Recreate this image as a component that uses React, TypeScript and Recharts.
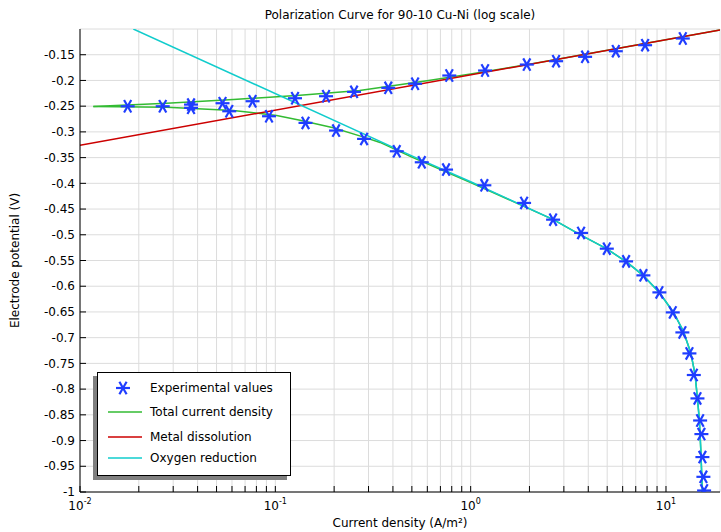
import { ComposedChart, Line, Scatter, XAxis, YAxis, CartesianGrid } from 'recharts';

if (typeof document !== 'undefined') document.body.style.margin = '0';

const FONT = '"DejaVu Sans", Verdana, sans-serif';
const BLUE = '#1f3dff';
const GREEN = '#33bb33';
const RED = '#cc0000';
const CYAN = '#11cccc';

// measured points: current density (A/m^2) and electrode potential (V)
const expCurrent = [
  0.01754, 0.02651, 0.03702, 0.03702, 0.05365, 0.05808, 0.07643, 0.09284, 0.1261, 0.1427,
  0.1818, 0.2046, 0.2529, 0.2846, 0.3786, 0.4184, 0.5192, 0.5619, 0.7772, 0.7482,
  1.185, 1.175, 1.938, 1.877, 2.737, 2.642, 3.853, 3.675, 5.534, 4.977,
  7.816, 6.247, 12.19, 7.66, 9.25, 10.83, 12.13, 13.18, 13.88, 14.49,
  14.95, 15.18, 15.36, 15.54, 15.67,
];
const expPotential = [
  -0.2502, -0.2502, -0.2469, -0.2533, -0.2443, -0.2599, -0.2404, -0.2696, -0.2346, -0.2825,
  -0.2307, -0.2974, -0.2222, -0.3136, -0.2144, -0.3377, -0.2064, -0.3591, -0.1904, -0.3733,
  -0.1807, -0.4038, -0.1691, -0.4381, -0.1626, -0.4706, -0.1541, -0.4964, -0.1432, -0.527,
  -0.1315, -0.5517, -0.1185, -0.5789, -0.612, -0.6509, -0.6898, -0.7306, -0.7726, -0.8181,
  -0.861, -0.8874, -0.9321, -0.9705, -0.9971,
];

// total current density, anodic branch
const totalAnodicCurrent = [0.0117, 0.0278, 0.061, 0.1338, 0.27, 0.598, 1.0, 2.0, 18.9];
const totalAnodicPotential = [-0.2507, -0.2443, -0.237, -0.229, -0.2195, -0.2005, -0.1875, -0.1683, -0.102];

// total current density, cathodic branch (joins the oxygen curve)
const totalCathodicCurrent = [0.0117, 0.0278, 0.061, 0.1016, 0.1338, 0.198, 0.281, 0.3437, 0.5, 1.0];
const totalCathodicPotential = [-0.2507, -0.2521, -0.2585, -0.268, -0.2775, -0.292, -0.3097, -0.3205, -0.349, -0.3985];

// metal dissolution
const metalCurrent = [0.01, 18.9];
const metalPotential = [-0.326, -0.102];

// oxygen reduction
const oxygenCurrent = [0.01875, 0.5, 1.0, 2.652, 3.63, 4.98, 6.3, 7.66, 9.22, 10.91, 12.28, 13.4, 14.09, 14.48, 14.83, 15.07, 15.25, 15.36];
const oxygenPotential = [-0.1, -0.3465, -0.397, -0.4706, -0.4997, -0.5275, -0.5532, -0.5795, -0.6116, -0.6505, -0.6878, -0.7298, -0.772, -0.8174, -0.861, -0.918, -0.97, -1.0];

const xTicks = [
  0.01, 0.02, 0.03, 0.04, 0.05, 0.06, 0.07, 0.08, 0.09,
  0.1, 0.2, 0.3, 0.4, 0.5, 0.6, 0.7, 0.8, 0.9,
  1, 2, 3, 4, 5, 6, 7, 8, 9,
  10,
];
const yTicks = [
  -1, -0.95, -0.9, -0.85, -0.8, -0.75, -0.7, -0.65, -0.6, -0.55,
  -0.5, -0.45, -0.4, -0.35, -0.3, -0.25, -0.2, -0.15,
];

const zip = (xs: number[], ys: number[]) => xs.map((x, i) => ({ x, y: ys[i] }));

const expData = zip(expCurrent, expPotential);
const anodicData = zip(totalAnodicCurrent, totalAnodicPotential);
const cathodicData = [
  ...zip(totalCathodicCurrent, totalCathodicPotential),
  ...zip(oxygenCurrent.slice(3), oxygenPotential.slice(3)),
];
const metalData = zip(metalCurrent, metalPotential);
const oxygenData = zip(oxygenCurrent, oxygenPotential);

const legendItems = [
  { name: 'Experimental values', color: BLUE, marker: true, row: 15 },
  { name: 'Total current density', color: GREEN, marker: false, row: 39 },
  { name: 'Metal dissolution', color: RED, marker: false, row: 64 },
  { name: 'Oxygen reduction', color: CYAN, marker: false, row: 85 },
];

function Asterisk({ cx, cy }: any) {
  if (cx == null || cy == null) return null;
  return (
    <g stroke={BLUE} strokeWidth={2.2} strokeLinecap="butt">
      <line x1={cx - 7} x2={cx + 7} y1={cy} y2={cy} />
      <line x1={cx - 3.6} x2={cx + 3.6} y1={cy - 6.2} y2={cy + 6.2} />
      <line x1={cx - 3.6} x2={cx + 3.6} y1={cy + 6.2} y2={cy - 6.2} />
    </g>
  );
}

function isDecade(v: number) {
  const l = Math.log10(v);
  return Math.abs(l - Math.round(l)) < 1e-6;
}

function BottomTick({ x, y, payload }: any) {
  const v = payload.value;
  return (
    <g>
      <line x1={x} x2={x} y1={y} y2={y - 6} stroke="#000" />
      {isDecade(v) && (
        <text x={x} y={y + 18} textAnchor="middle" fontSize={12} fontFamily={FONT} fill="#000">
          10<tspan dy={-6} fontSize={8}>{String(Math.round(Math.log10(v)))}</tspan>
        </text>
      )}
    </g>
  );
}

function TopTick({ x, y }: any) {
  return <line x1={x} x2={x} y1={y} y2={y + 6} stroke="#000" />;
}

function LeftTick({ x, y, payload }: any) {
  return (
    <g>
      <line x1={x} x2={x + 6} y1={y} y2={y} stroke="#000" />
      <text x={x - 5} y={y} dy="0.35em" textAnchor="end" fontSize={12} fontFamily={FONT} fill="#000">
        {String(payload.value)}
      </text>
    </g>
  );
}

function RightTick({ x, y }: any) {
  return <line x1={x} x2={x - 6} y1={y} y2={y} stroke="#000" />;
}

function LegendBox() {
  return (
    <div
      style={{
        position: 'absolute',
        left: 97,
        top: 372,
        width: 194,
        height: 104,
        boxSizing: 'border-box',
        border: '1px solid #000',
        background: '#fff',
        boxShadow: '-4px 4px 0 #808080',
        fontFamily: FONT,
        fontSize: 12,
        color: '#000',
      }}
    >
      <svg style={{ position: 'absolute', left: 0, top: 0 }} width={192} height={102}>
        {legendItems.map((item) =>
          item.marker ? (
            <Asterisk key={item.name} cx={25} cy={item.row} />
          ) : (
            <line key={item.name} x1={10} x2={44} y1={item.row} y2={item.row} stroke={item.color} strokeWidth={1.5} />
          )
        )}
      </svg>
      {legendItems.map((item) => (
        <div
          key={item.name}
          style={{ position: 'absolute', left: 52, top: item.row - 8, lineHeight: '16px', whiteSpace: 'nowrap' }}
        >
          {item.name}
        </div>
      ))}
    </div>
  );
}

export default function App() {
  return (
    <div style={{ position: 'relative', width: 721, height: 532, background: '#fff', fontFamily: FONT }}>
      <div
        style={{
          position: 'absolute',
          left: 80,
          top: 8,
          width: 640,
          textAlign: 'center',
          fontSize: 12,
          lineHeight: '14px',
          color: '#000',
        }}
      >
        Polarization Curve for 90-10 Cu-Ni (log scale)
      </div>
      <ComposedChart width={721} height={532} margin={{ top: 29, right: 1, bottom: 0, left: 0 }}>
        <CartesianGrid stroke="#dcdcdc" strokeWidth={1} />
        <XAxis
          dataKey="x"
          type="number"
          scale="log"
          domain={[0.01, 18.9]}
          allowDataOverflow
          ticks={xTicks}
          interval={0}
          height={40}
          tickSize={0}
          tickMargin={0}
          tick={<BottomTick />}
          axisLine={{ stroke: '#000' }}
          label={{
            content: ({ viewBox }: any) => (
              <text
                x={viewBox.x + viewBox.width / 2}
                y={viewBox.y + 35}
                textAnchor="middle"
                fontSize={12}
                fontFamily={FONT}
                fill="#000"
              >
                Current density (A/m²)
              </text>
            ),
          }}
        />
        <XAxis
          xAxisId="top"
          orientation="top"
          dataKey="x"
          type="number"
          scale="log"
          domain={[0.01, 18.9]}
          allowDataOverflow
          ticks={xTicks}
          interval={0}
          height={0}
          tickSize={0}
          tickMargin={0}
          tick={<TopTick />}
          axisLine={{ stroke: '#000' }}
        />
        <YAxis
          dataKey="y"
          type="number"
          domain={[-1, -0.1]}
          allowDataOverflow
          ticks={yTicks}
          interval={0}
          width={80}
          tickSize={0}
          tickMargin={0}
          tick={<LeftTick />}
          axisLine={{ stroke: '#000' }}
          label={{
            content: ({ viewBox }: any) => {
              const cx = 15;
              const cy = viewBox.y + viewBox.height / 2;
              return (
                <text
                  x={cx}
                  y={cy}
                  transform={`rotate(-90 ${cx} ${cy})`}
                  textAnchor="middle"
                  dy="0.35em"
                  fontSize={12}
                  fontFamily={FONT}
                  fill="#000"
                >
                  Electrode potential (V)
                </text>
              );
            },
          }}
        />
        <YAxis
          yAxisId="right"
          orientation="right"
          dataKey="y"
          type="number"
          domain={[-1, -0.1]}
          allowDataOverflow
          ticks={yTicks}
          interval={0}
          width={0}
          tickSize={0}
          tickMargin={0}
          tick={<RightTick />}
          axisLine={{ stroke: '#000' }}
        />
        <Line data={anodicData} dataKey="y" type="linear" stroke={GREEN} strokeWidth={1.5} dot={false} isAnimationActive={false} />
        <Line data={cathodicData} dataKey="y" type="linear" stroke={GREEN} strokeWidth={1.5} dot={false} isAnimationActive={false} />
        <Line data={metalData} dataKey="y" type="linear" stroke={RED} strokeWidth={1.5} dot={false} isAnimationActive={false} />
        <Line data={oxygenData} dataKey="y" type="linear" stroke={CYAN} strokeWidth={1.5} dot={false} isAnimationActive={false} />
        <Scatter data={expData} dataKey="y" shape={<Asterisk />} isAnimationActive={false} />
      </ComposedChart>
      <LegendBox />
    </div>
  );
}
